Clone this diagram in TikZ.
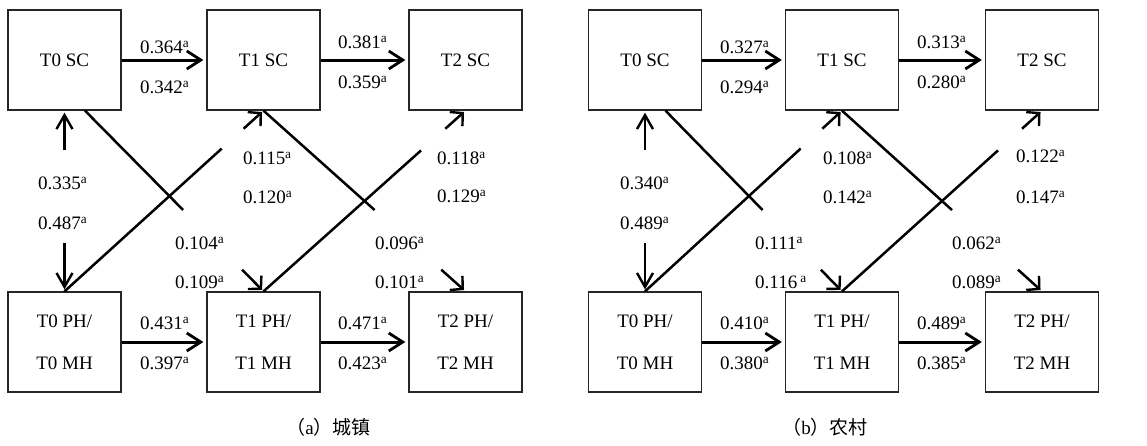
\documentclass[tikz,border=0pt]{standalone}
\usepackage{fontspec}
\setmainfont{Liberation Serif}
\newfontfamily\cjk{Noto Sans CJK SC}
\usetikzlibrary{arrows.meta,calc}
\begin{document}
\begin{tikzpicture}[x=1pt,y=-1pt,
 box/.style={draw=black!85,line width=1.3pt,minimum width=113pt,minimum height=100pt,inner sep=0pt,font=\fontsize{19}{42}\selectfont,align=center},
 lab/.style={anchor=base west,inner sep=0pt,font=\fontsize{19}{22}\selectfont},
 harr/.style={line width=3pt,-{Straight Barb[length=14pt,width=18pt,line width=2.8pt]},shorten >=3pt},
 varr/.style={line width=2.5pt,-{Straight Barb[length=14pt,width=16pt,line width=2.4pt]},shorten >=2pt},
 darr/.style={line width=2.5pt,-{Straight Barb[length=9pt,width=19pt,line width=2.4pt]},shorten >=2pt},
 dline/.style={line width=2.5pt},
 capt/.style={anchor=east,inner sep=0pt,font=\fontsize{19}{22}\selectfont}
]
\useasboundingbox (0,0) rectangle (1147,445);
\foreach \p/\xa/\xb/\xc in {a/64.5/263.5/465.5, b/645/842/1042}{
  \node[box] (\p s0) at (\xa,60) {T0 SC};
  \node[box] (\p s1) at (\xb,60) {T1 SC};
  \node[box] (\p s2) at (\xc,60) {T2 SC};
  \node[box] (\p h0) at (\xa,342) {T0 PH/\\T0 MH};
  \node[box] (\p h1) at (\xb,342) {T1 PH/\\T1 MH};
  \node[box] (\p h2) at (\xc,342) {T2 PH/\\T2 MH};
  \draw[harr] (\p s0) -- (\p s1);
  \draw[harr] (\p s1) -- (\p s2);
  \draw[harr] (\p h0) -- (\p h1);
  \draw[harr] (\p h1) -- (\p h2);
  % vertical
  \path (\p s0.south) -- (\p h0.north) coordinate[pos=0.22] (\p v1) coordinate[pos=0.73] (\p v2);
  \draw[varr] (\p v1) -- (\p s0.south);
  \draw[varr] (\p v2) -- (\p h0.north);
  % diagonals first pair
  \coordinate (\p d1s) at ($(\p s0.south)+(20.5,0)$);
  \path (\p d1s) -- (\p h1.north) coordinate[pos=0.55] (\p d1g) coordinate[pos=0.88] (\p d1h);
  \draw[dline] (\p d1s) -- (\p d1g);
  \draw[darr] (\p d1h) -- (\p h1.north);
  \path (\p h0.north) -- (\p s1.south) coordinate[pos=0.79] (\p d2g) coordinate[pos=0.9] (\p d2h);
  \draw[dline] (\p h0.north) -- (\p d2g);
  \draw[darr] (\p d2h) -- (\p s1.south);
  % second pair
  \path (\p s1.south) -- (\p h2.north) coordinate[pos=0.55] (\p d3g) coordinate[pos=0.88] (\p d3h);
  \draw[dline] (\p s1.south) -- (\p d3g);
  \draw[darr] (\p d3h) -- (\p h2.north);
  \path (\p h1.north) -- (\p s2.south) coordinate[pos=0.78] (\p d4g) coordinate[pos=0.9] (\p d4h);
  \draw[dline] (\p h1.north) -- (\p d4g);
  \draw[darr] (\p d4h) -- (\p s2.south);
}
% labels panel a
\foreach \x/\y/\t in {140/53.5/0.364, 140/93.5/0.342, 338/48.5/0.381, 338/88.5/0.359,
  38/189.5/0.335, 38/229.5/0.487, 243/164.5/0.115, 243/203.5/0.120,
  175/249.5/0.104, 175/288.5/0.109, 437/164.5/0.118, 437/202.5/0.129,
  375/249.5/0.096, 375/288.5/0.101, 140/329.5/0.431, 140/369.5/0.397,
  338/329.5/0.471, 338/369.5/0.423,
  720/53.5/0.327, 720/93.5/0.294, 917/48.5/0.313, 917/88.5/0.280,
  620/189.5/0.340, 620/229.5/0.489, 823/164.5/0.108, 823/203.5/0.142,
  755/249.5/0.111, 1016/162.5/0.122, 1016/203.5/0.147,
  952/249.5/0.062, 952/288.5/0.089, 720/329.5/0.410, 720/369.5/0.380,
  917/329.5/0.489, 917/369.5/0.385}
  \node[lab] at (\x,\y) {\t\textsuperscript{a}};
\node[lab] (l116) at (755,288.5) {0.116\,\textsuperscript{a}};
\node[capt] (capa) at (371,427) {{\cjk （}a{\cjk ）城镇}};
\node[capt] (capb) at (868,427) {{\cjk （}b{\cjk ）农村}};
\end{tikzpicture}
\end{document}
